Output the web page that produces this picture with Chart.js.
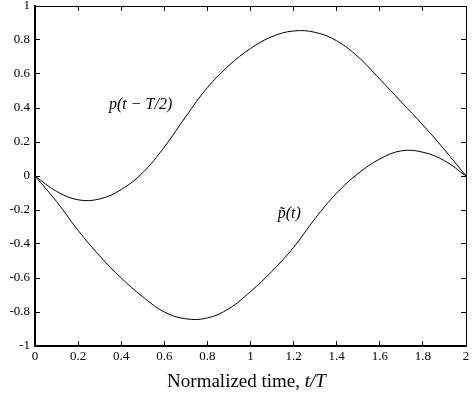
<!DOCTYPE html>
<html>
<head>
<meta charset="utf-8">
<script src="https://cdn.jsdelivr.net/npm/chart.js@4"></script>
<style>
  html, body { margin: 0; padding: 0; background: #fff; }
  #wrap { width: 472px; height: 400px; }
</style>
</head>
<body>
<div id="wrap"><canvas id="pulseChart" width="472" height="400"></canvas></div>
<script>
// normalized time samples t/T
const timeSteps = [0, 0.1, 0.2, 0.3, 0.4, 0.5, 0.6, 0.7, 0.8, 0.9, 1.0,
                   1.1, 1.2, 1.3, 1.4, 1.5, 1.6, 1.7, 1.8, 1.9, 2.0];
// p(t - T/2)
const shiftedPulse = [0, -0.09, -0.14, -0.135, -0.08, 0.02, 0.17, 0.35, 0.52, 0.65, 0.75,
                      0.82, 0.853, 0.845, 0.795, 0.70, 0.57, 0.435, 0.30, 0.155, 0];
// p~(t)
const tildePulse = [0, -0.15, -0.32, -0.47, -0.60, -0.71, -0.80, -0.84, -0.835, -0.78, -0.68,
                    -0.56, -0.42, -0.25, -0.10, 0.015, 0.10, 0.148, 0.14, 0.09, 0];
const xTicks = [0, 0.2, 0.4, 0.6, 0.8, 1, 1.2, 1.4, 1.6, 1.8, 2];
const yTicks = [-1, -0.8, -0.6, -0.4, -0.2, 0, 0.2, 0.4, 0.6, 0.8, 1];

const SERIF = 'Liberation Serif';
Chart.defaults.font.family = SERIF;
Chart.defaults.color = '#000';

function toPoints(ys) {
    return timeSteps.map((t, i) => ({ x: t, y: ys[i] }));
}

// curve labels and the axis title
const labelPlugin = {
    id: 'pulseLabels',
    afterDraw(chart) {
        const ctx = chart.ctx;
        const a = chart.chartArea;
        const xs = chart.scales.x, ys = chart.scales.y;
        ctx.save();
        ctx.fillStyle = '#000';
        ctx.textAlign = 'center';
        ctx.textBaseline = 'middle';
        ctx.font = 'italic 16px ' + SERIF;
        ctx.fillText('p(t \u2212 T/2)', xs.getPixelForValue(0.49), ys.getPixelForValue(0.42));
        ctx.fillText('p\u0303(t)', xs.getPixelForValue(1.18), ys.getPixelForValue(-0.22));

        const base = 'Normalized time, ';
        ctx.font = '19px ' + SERIF;
        const bw = ctx.measureText(base).width;
        ctx.font = 'italic 19px ' + SERIF;
        const iw = ctx.measureText('t/T').width;
        const start = (a.left + a.right) / 2 - 4 - (bw + iw) / 2;
        ctx.textAlign = 'left';
        ctx.font = '19px ' + SERIF;
        ctx.fillText(base, start, 382);
        ctx.font = 'italic 19px ' + SERIF;
        ctx.fillText('t/T', start + bw, 382);
        ctx.restore();
    }
};

function frameAxis(position, ticks, width, showLabels) {
    const horizontal = position === 'top' || position === 'bottom';
    return {
        type: 'linear',
        position: position,
        min: horizontal ? 0 : -1,
        max: horizontal ? 2 : 1,
        afterBuildTicks: s => { s.ticks = ticks.map(v => ({ value: v })); },
        afterFit: s => {
            if (horizontal) s.height = showLabels ? 54 : 0;
            else s.width = showLabels ? 35 : 0;
            s.paddingTop = 0; s.paddingBottom = 0;
            s.paddingLeft = 0; s.paddingRight = 0;
        },
        grid: { drawOnChartArea: false, drawTicks: true, tickLength: -5, color: '#000', tickColor: '#000', tickWidth: 1 },
        border: { display: true, color: '#000', width: width },
        ticks: {
            display: showLabels,
            color: '#000',
            font: { family: SERIF, size: 13 },
            padding: horizontal ? 8 : 10,
            maxRotation: 0,
            callback: v => String(Math.round(v * 10) / 10)
        }
    };
}

function initPulseChart() {
    const ctx = document.getElementById('pulseChart').getContext('2d');
    const lineStyle = {
        borderColor: '#000',
        borderWidth: 1,
        pointRadius: 0,
        fill: false,
        tension: 0.4
    };
    new Chart(ctx, {
        type: 'line',
        data: {
            datasets: [
                Object.assign({ label: 'p(t - T/2)', data: toPoints(shiftedPulse) }, lineStyle),
                Object.assign({ label: 'p~(t)', data: toPoints(tildePulse) }, lineStyle)
            ]
        },
        options: {
            responsive: false,
            animation: false,
            layout: { padding: { top: 6, right: 6, left: 0, bottom: 0 } },
            plugins: { legend: { display: false }, tooltip: { enabled: false } },
            scales: {
                x: frameAxis('bottom', xTicks, 2, true),
                y: frameAxis('left', yTicks, 2, true),
                x2: frameAxis('top', xTicks, 1, false),
                y2: frameAxis('right', yTicks, 1, false)
            }
        },
        plugins: [labelPlugin]
    });
}

document.addEventListener('DOMContentLoaded', initPulseChart);
</script>
</body>
</html>
